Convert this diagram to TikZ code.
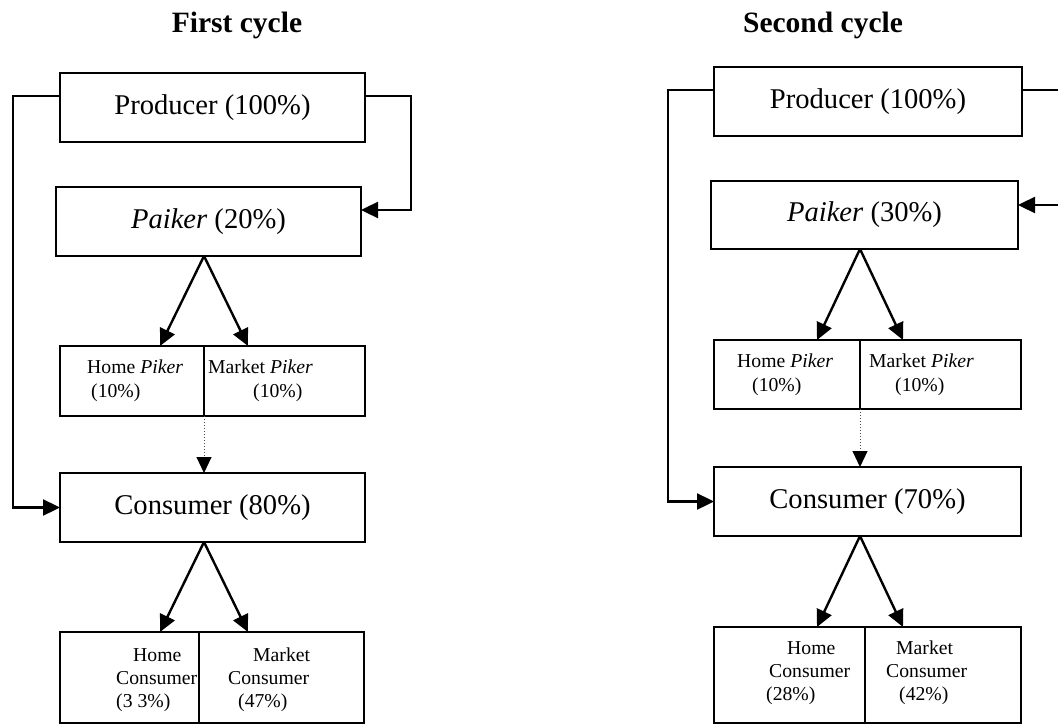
\documentclass[tikz,border=0pt]{standalone}
\usepackage{fontspec}
\setmainfont{Liberation Serif}
\usetikzlibrary{arrows.meta,calc}
\begin{document}
\begin{tikzpicture}[x=1pt,y=-1pt,
  box/.style={draw,line width=2.4pt,rectangle,inner sep=0pt,outer sep=0pt},
  big/.style={font=\fontsize{28.6}{34}\selectfont},
  small/.style={font=\fontsize{19.7}{24}\selectfont,align=left,anchor=west,inner sep=0pt},
  smaller/.style={font=\fontsize{19.7}{23}\selectfont,align=left,anchor=west,inner sep=0pt},
  arr/.style={line width=2.4pt,-{Triangle[length=17pt,width=16pt]}},
  dotarr/.style={line width=1pt,dotted,draw=black!70,-{Triangle[length=16pt,width=15pt,color=black]}},
  ttl/.style={font=\fontsize{29.5}{34}\selectfont\bfseries}]
\useasboundingbox (0,0) rectangle (1058,725);
\clip (0,0) rectangle (1058,725);

% titles
\node[ttl] (t1) at (237,25) {First cycle};
\node[ttl] (t2) at (823,25) {Second cycle};

% ---------- first cycle ----------
\node[box,big,minimum width=305pt,minimum height=69pt] (prod1) at (212.5,107.5) {Producer (100\%)};
\node[box,big,minimum width=305pt,minimum height=69pt] (paik1) at (208.5,221.5) {\textit{Paiker} (20\%)};
\node[box,minimum width=144pt,minimum height=70pt] (hpbox1) at (132,381) {};
\node[box,minimum width=161pt,minimum height=70pt] (mpbox1) at (284.5,381) {};
\node[box,big,minimum width=305pt,minimum height=69pt] (cons1) at (212.5,507.5) {Consumer (80\%)};
\node[box,minimum width=139pt,minimum height=91pt] (hcbox1) at (129.5,677.5) {};
\node[box,minimum width=165pt,minimum height=91pt] (mcbox1) at (281.5,677.5) {};

\node[small] (hp1t) at (87,381) {Home \textit{Piker}\\\hspace*{4pt}(10\%)};
\node[small] (mp1t) at (208,381) {Market \textit{Piker}\\\hspace*{45pt}(10\%)};
\node[smaller] (hc1t) at (116,680) {\hspace*{17pt}Home\\Consumer\\(3 3\%)};
\node[smaller] (mc1t) at (228,680) {\hspace*{25pt}Market\\Consumer\\\hspace*{10pt}(47\%)};

\coordinate (ll1) at (13,300);
\coordinate (rl1) at (411,150);
\draw[arr] ($(prod1.west)+(0,-11.5)$) -| (ll1) |- (cons1.west);
\draw[arr] ($(prod1.east)+(0,-11.5)$) -| (rl1) |- ($(paik1.east)+(0,-11.5)$);

\coordinate (pa1) at (hpbox1.east |- paik1.south);
\draw[arr] (pa1) -- ($(pa1 |- hpbox1.north)+(-44,0)$);
\draw[arr] (pa1) -- ($(pa1 |- hpbox1.north)+(44,0)$);
\draw[dotarr] (hpbox1.south east) -- (hpbox1.south east |- cons1.north);
\coordinate (ca1) at (hpbox1.east |- cons1.south);
\draw[arr] (ca1) -- ($(ca1 |- hcbox1.north)+(-44,0)$);
\draw[arr] (ca1) -- ($(ca1 |- hcbox1.north)+(44,0)$);

% ---------- second cycle ----------
\node[box,big,minimum width=308pt,minimum height=69pt] (prod2) at (868,101.5) {Producer (100\%)};
\node[box,big,minimum width=307pt,minimum height=68pt] (paik2) at (864.5,215) {\textit{Paiker} (30\%)};
\node[box,minimum width=146pt,minimum height=69pt] (hpbox2) at (787,374.5) {};
\node[box,minimum width=161pt,minimum height=69pt] (mpbox2) at (940.5,374.5) {};
\node[box,big,minimum width=307pt,minimum height=69pt] (cons2) at (867.5,501.5) {Consumer (70\%)};
\node[box,minimum width=151pt,minimum height=96pt] (hcbox2) at (789.5,675) {};
\node[box,minimum width=156pt,minimum height=96pt] (mcbox2) at (943,675) {};

\node[small] (hp2t) at (737,375) {Home \textit{Piker}\\\hspace*{15pt}(10\%)};
\node[small] (mp2t) at (869,375) {Market \textit{Piker}\\\hspace*{26pt}(10\%)};
\node[smaller] (hc2t) at (766,673) {\hspace*{21pt}Home\\\hspace*{3pt}Consumer\\(28\%)};
\node[smaller] (mc2t) at (886,673) {\hspace*{10pt}Market\\Consumer\\\hspace*{13pt}(42\%)};

\coordinate (ll2) at (668,300);
\coordinate (rl2) at (1080,150);
\draw[arr] ($(prod2.west)+(0,-11.5)$) -| (ll2) |- (cons2.west);
\draw[arr] ($(prod2.east)+(0,-11.5)$) -| (rl2) |- ($(paik2.east)+(0,-10)$);

\coordinate (pa2) at (hpbox2.east |- paik2.south);
\draw[arr] (pa2) -- ($(pa2 |- hpbox2.north)+(-43,0)$);
\draw[arr] (pa2) -- ($(pa2 |- hpbox2.north)+(43,0)$);
\draw[dotarr] (hpbox2.south east) -- (hpbox2.south east |- cons2.north);
\coordinate (ca2) at (hpbox2.east |- cons2.south);
\draw[arr] (ca2) -- ($(ca2 |- hcbox2.north)+(-43,0)$);
\draw[arr] (ca2) -- ($(ca2 |- hcbox2.north)+(43,0)$);
\end{tikzpicture}
\end{document}
